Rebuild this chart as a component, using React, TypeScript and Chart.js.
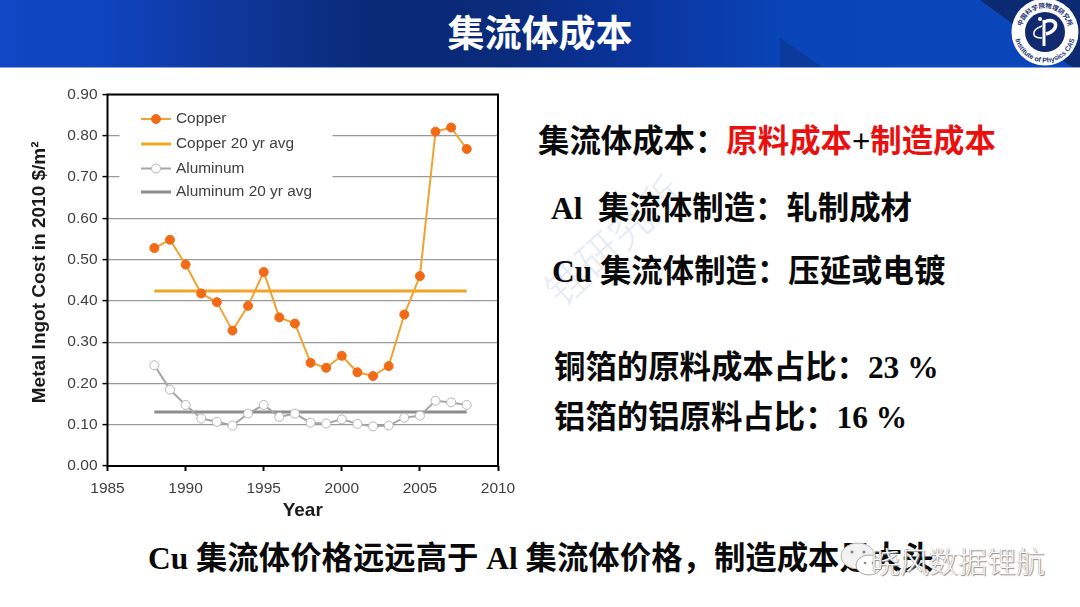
import React, { useEffect, useRef } from "react";
import { Chart, registerables } from "chart.js";

Chart.register(...registerables);

const years = [1988, 1989, 1990, 1991, 1992, 1993, 1994, 1995, 1996, 1997, 1998, 1999, 2000, 2001, 2002, 2003, 2004, 2005, 2006, 2007, 2008];
const copper = [0.528, 0.548, 0.488, 0.418, 0.397, 0.328, 0.388, 0.47, 0.36, 0.345, 0.25, 0.238, 0.267, 0.227, 0.218, 0.242, 0.367, 0.46, 0.81, 0.82, 0.768];
const aluminum = [0.244, 0.185, 0.148, 0.115, 0.107, 0.098, 0.127, 0.148, 0.119, 0.127, 0.105, 0.103, 0.113, 0.102, 0.096, 0.098, 0.117, 0.122, 0.158, 0.154, 0.148];
const copperAvgYears = [1988, 2008];
const copperAvg = [0.424, 0.424];
const aluminumAvgYears = [1988, 2008];
const aluminumAvg = [0.131, 0.131];
const seriesLabels = ["Copper", "Copper 20 yr avg", "Aluminum", "Aluminum 20 yr avg"];

const pairs = (xs: number[], ys: number[]) => xs.map((x, i) => ({ x, y: ys[i] }));

const CN = '"Liberation Serif", "Noto Sans CJK SC", serif';
const SANS = '"Liberation Sans", Arial, sans-serif';

const legendPlugin = {
  id: "floatLegend",
  afterDatasetsDraw(chart: any) {
    const { ctx } = chart;
    const rows = [39, 64, 88.5, 112];
    ctx.save();
    chart.data.datasets.forEach((ds: any, i: number) => {
      const y = rows[i];
      ctx.strokeStyle = ds.borderColor;
      ctx.lineWidth = ds.borderWidth;
      ctx.beginPath();
      ctx.moveTo(121, y);
      ctx.lineTo(151, y);
      ctx.stroke();
      if (ds.pointRadius > 0) {
        ctx.beginPath();
        ctx.arc(136, y, 4.5, 0, Math.PI * 2);
        ctx.fillStyle = ds.pointBackgroundColor;
        ctx.fill();
        ctx.strokeStyle = ds.pointBorderColor;
        ctx.lineWidth = 1;
        ctx.stroke();
      }
      ctx.fillStyle = "#404040";
      ctx.font = `15.4px ${SANS}`;
      ctx.textBaseline = "middle";
      ctx.fillText(ds.label, 156, y);
    });
    ctx.restore();
  },
};

const maskAndFrame = {
  id: "maskAndFrame",
  beforeDatasetsDraw(chart: any) {
    const { ctx, chartArea: a } = chart;
    ctx.save();
    ctx.fillStyle = "#fff";
    ctx.fillRect(a.left + 12, a.top + 2, 213, 108);
    ctx.restore();
  },
  afterDatasetsDraw(chart: any) {
    const { ctx, chartArea: a } = chart;
    ctx.save();
    ctx.strokeStyle = "#000";
    ctx.lineWidth = 2;
    ctx.strokeRect(a.left, a.top, a.right - a.left, a.bottom - a.top);
    ctx.restore();
  },
};

function ChartBox() {
  const ref = useRef<HTMLCanvasElement>(null);
  useEffect(() => {
    const chart = new Chart(ref.current!, {
      type: "line",
      data: {
        datasets: [
          {
            label: seriesLabels[0],
            data: pairs(years, copper),
            borderColor: "#EFA22F",
            borderWidth: 2,
            pointRadius: 4.5,
            pointBackgroundColor: "#F26A16",
            pointBorderColor: "#F26A16",
            pointBorderWidth: 1,
            order: 1,
          },
          {
            label: seriesLabels[1],
            data: pairs(copperAvgYears, copperAvg),
            borderColor: "#F2A427",
            borderWidth: 3,
            pointRadius: 0,
            order: 3,
          },
          {
            label: seriesLabels[2],
            data: pairs(years, aluminum),
            borderColor: "#A6A6A6",
            borderWidth: 2,
            pointRadius: 4.5,
            pointBackgroundColor: "#FFFFFF",
            pointBorderColor: "#B5B5B5",
            pointBorderWidth: 1,
            order: 2,
          },
          {
            label: seriesLabels[3],
            data: pairs(aluminumAvgYears, aluminumAvg),
            borderColor: "#8C8C8C",
            borderWidth: 3,
            pointRadius: 0,
            order: 4,
          },
        ],
      },
      options: {
        animation: false,
        responsive: false,
        parsing: false as any,
        layout: { padding: { top: 14.5, right: 22, bottom: 0, left: 0 } },
        plugins: { legend: { display: false }, tooltip: { enabled: false } },
        scales: {
          x: {
            type: "linear",
            min: 1985,
            max: 2010,
            afterFit: (s: any) => { s.height = 64; s.paddingRight = 0; s.paddingLeft = 0; },
            border: { display: false },
            grid: { drawOnChartArea: false, drawTicks: true, tickLength: 5, tickColor: "#000", tickWidth: 2 },
            ticks: {
              stepSize: 5,
              maxRotation: 0,
              padding: 8,
              color: "#404040",
              font: { family: SANS, size: 15.5 },
              callback: (v: any) => String(v),
            },
            title: {
              display: true,
              text: "Year",
              color: "#1a1a1a",
              padding: { top: 2, bottom: 8 },
              font: { family: SANS, size: 19, weight: "bold" },
            },
          },
          y: {
            min: 0,
            max: 0.9,
            afterFit: (s: any) => { s.width = 87.5; },
            border: { display: false },
            grid: { color: "#999999", lineWidth: 1.2, tickLength: 5, tickColor: "#000", tickWidth: 1.5 },
            ticks: {
              stepSize: 0.1,
              padding: 5,
              color: "#404040",
              font: { family: SANS, size: 15.5 },
              callback: (v: any) => Number(v).toFixed(2),
            },
            title: {
              display: true,
              text: "   Metal Ingot Cost in 2010 $/m²",
              color: "#1a1a1a",
              padding: { top: 8, bottom: 0 },
              font: { family: SANS, size: 19, weight: "bold" },
            },
          },
        },
      },
      plugins: [maskAndFrame, legendPlugin],
    } as any);
    return () => chart.destroy();
  }, []);
  return (
    <canvas
      ref={ref}
      width={500}
      height={450}
      style={{ position: "absolute", left: 20, top: 80, width: 500, height: 450, filter: "blur(0.4px)" }}
    />
  );
}

function Line({ x, y, size = 31.4, children, color = "#0a0a0a" }: any) {
  return (
    <div
      style={{
        position: "absolute",
        left: x,
        top: y - size * 0.72,
        fontFamily: CN,
        fontWeight: 700,
        fontSize: size,
        lineHeight: `${size * 1.5}px`,
        color,
        whiteSpace: "pre",
      }}
    >
      {children}
    </div>
  );
}

function Logo() {
  return (
    <svg width={72} height={72} viewBox="0 0 72 72" style={{ position: "absolute", left: 1009, top: -4 }}>
      <circle cx={36} cy={36} r={33.5} fill="#fff" />
      <circle cx={36} cy={36} r={20} fill="#10296f" />
      <defs>
        <path id="ringB" d="M 5.5 36 A 30.5 30.5 0 0 0 66.5 36" />
        <path id="ringT" d="M 12 36 A 24 24 0 1 1 60 36" />
      </defs>
      <text fontFamily={SANS} fontSize={7} fontWeight={700} fill="#1a2f70">
        <textPath href="#ringB" startOffset="50%" textAnchor="middle">Institute of Physics CAS</textPath>
      </text>
      <text fontFamily='"Noto Sans CJK SC"' fontSize={6.4} fontWeight={700} fill="#1a2f70">
        <textPath href="#ringT" startOffset="50%" textAnchor="middle">中国科学院物理研究所</textPath>
      </text>
      <path d="M 35 24 L 35 50" stroke="#fff" strokeWidth={3} fill="none" />
      <path d="M 35 26 C 48 20 52 34 37 38" stroke="#fff" strokeWidth={3.5} fill="none" />
      <path d="M 33 30 C 22 34 22 42 33 42" stroke="#fff" strokeWidth={1.5} fill="none" />
      <circle cx={31} cy={23} r={2} fill="#fff" />
    </svg>
  );
}

export default function App() {
  useEffect(() => {
    document.body.style.margin = "0";
    document.body.style.background = "#fff";
  }, []);
  return (
    <div style={{ position: "fixed", left: 0, top: 0, width: 1080, height: 607, overflow: "hidden", background: "#fff" }}>
      <div style={{ position: "absolute", left: 0, top: 0, width: 1080, height: 67, background: "linear-gradient(90deg,#1146c4 0,#0f44bf 100px,#0f3699 240px,#0a2a78 370px,#0a2a7a 500px,#0a36a0 650px,#0a45b8 790px,#0a46ba 1000px)", borderBottom: "1px solid #7fa6d8" }}>
        <div style={{ position: "absolute", inset: 0, background: "#0b2a72", clipPath: "polygon(980px 0, 1080px 0, 1080px 67px, 1072px 67px)" }} />
        <div style={{ position: "absolute", inset: 0, background: "#0a3a9c", clipPath: "polygon(780px 38px, 822px 67px, 780px 67px)" }} />
        <div style={{ position: "absolute", left: 0, width: 1080, top: 5, textAlign: "center", color: "#fff", fontFamily: '"Noto Sans CJK SC"', fontWeight: 700, fontSize: 37, lineHeight: "52px" }}>集流体成本</div>
      </div>
      <Logo />

      <div style={{ position: "absolute", left: 528, top: 208, fontFamily: '"Noto Sans CJK SC"', fontWeight: 300, fontSize: 42, color: "#e6ebf3", transform: "rotate(-42deg)", whiteSpace: "pre" }}>锂研究所</div>

      <ChartBox />

      <Line x={538} y={141}>集流体成本：<span style={{ color: "#E8110F" }}>原料成本</span><span style={{ fontFamily: SANS, fontWeight: 400 }}>+</span><span style={{ color: "#E8110F" }}>制造成本</span></Line>
      <Line x={551} y={208}>Al  集流体制造：轧制成材</Line>
      <Line x={552} y={271}>Cu 集流体制造：压延或电镀</Line>
      <Line x={554} y={367}>铜箔的原料成本占比：23 %</Line>
      <Line x={554} y={417}>铝箔的铝原料占比：16 %</Line>
      <Line x={148} y={558}>Cu 集流体价格远远高于 Al 集流体价格，制造成本是大头</Line>

      <svg width={44} height={38} viewBox="0 0 44 38" style={{ position: "absolute", left: 840, top: 541 }}>
        <ellipse cx={18} cy={15} rx={17} ry={13} fill="#f2f2f2" stroke="#bbb" />
        <ellipse cx={29} cy={24} rx={13} ry={10} fill="#fff" stroke="#aaa" />
        <circle cx={12} cy={11} r={1.6} fill="#888" />
        <circle cx={24} cy={11} r={1.6} fill="#888" />
        <circle cx={25} cy={22} r={1.3} fill="#888" />
        <circle cx={33} cy={22} r={1.3} fill="#888" />
      </svg>
      <div style={{ position: "absolute", left: 871, top: 540, fontFamily: '"Noto Sans CJK SC"', fontWeight: 300, fontSize: 29, lineHeight: "40px", color: "#f6f6f6", textShadow: "1px 1px 1px #8a8a8a, -0.5px -0.5px 0 #b0b0b0", whiteSpace: "pre" }}>晓风数据锂航</div>
    </div>
  );
}
